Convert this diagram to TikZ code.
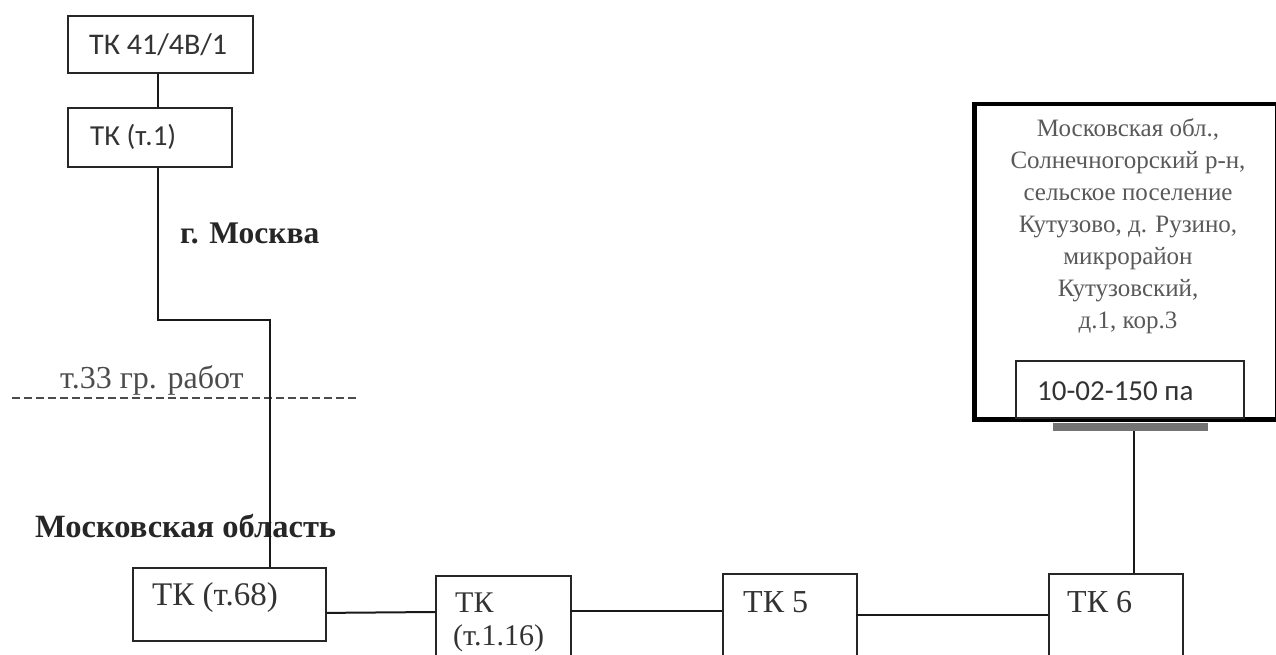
\documentclass[tikz,border=0pt]{standalone}
\usepackage{fontspec}
\setmainfont{Liberation Serif}
\newfontfamily\calfont{Carlito}
\begin{document}
\begin{tikzpicture}[x=1pt,y=-1pt,
  box/.style={draw=black!85, line width=1.8pt, rectangle, inner sep=0pt, anchor=north west},
  conn/.style={draw=black!90, line width=2pt},
  sanslbl/.style={font=\calfont\fontsize{29}{31}\selectfont, text=black!80, inner sep=0pt, anchor=west},
  seriflbl/.style={font=\fontsize{32}{34}\selectfont, text=black!80, inner sep=0pt, anchor=west},
  boldlbl/.style={font=\bfseries\fontsize{31.5}{33}\selectfont, text=black!85, inner sep=0pt, anchor=west},
  addr/.style={font=\fontsize{25}{32}\selectfont, text=black!65, inner sep=0pt, align=center}]
\clip (0,0) rectangle (1276,655);
\fill[white] (0,0) rectangle (1276,655);
% top-left boxes
\node[box, minimum width=185pt, minimum height=57pt] (b1) at (67,15) {};
\node[sanslbl, font=\calfont\fontsize{30}{32}\selectfont] (t1) at (89,45) {ТК 41/4В/1};
\node[box, minimum width=164pt, minimum height=59pt] (b2) at (67,107) {};
\node[sanslbl] (t2) at (90,137) {ТК (т.1)};
% bottom boxes
\node[box, minimum width=193pt, minimum height=73pt] (tk68) at (132,567) {};
\node[seriflbl, font=\fontsize{33}{35}\selectfont] (t68) at (152,598) {ТК (т.68)};
\node[box, minimum width=135pt, minimum height=110pt] (tk116) at (435,575) {};
\node[seriflbl, font=\fontsize{30}{32}\selectfont] (t116a) at (455,603) {ТК};
\node[seriflbl, font=\fontsize{30}{32}\selectfont] (t116b) at (453,638) {(т.1.16)};
\node[box, minimum width=134pt, minimum height=110pt] (tk5) at (722,573) {};
\node[seriflbl] (t5) at (743,602) {ТК 5};
\node[box, minimum width=134pt, minimum height=110pt] (tk6) at (1048,573) {};
\node[seriflbl] (t6) at (1067,602) {ТК 6};
% big box
\node[box, draw=black, line width=4.5pt, minimum width=303pt, minimum height=315pt] (big) at (972,102) {};
\node[addr] (addrtext) at (1128,226) {Московская обл.,\\Солнечногорский р-н,\\сельское поселение\\Кутузово, д. Рузино,\\микрорайон\\Кутузовский,\\д.1, кор.3};
\node[box, minimum width=228pt, minimum height=57pt] (inner) at (1015,360) {};
\node[sanslbl] (t10) at (1037,391) {10-02-150 па};
\fill[black!55] (1053,423) rectangle (1208,431);
% labels
\node[boldlbl] (moscow) at (180,233) {г. Москва};
\node[boldlbl, font=\bfseries\fontsize{32.5}{34}\selectfont] (oblast) at (35,526) {Московская область};
\node[seriflbl, text=black!70] (gr) at (60,380) {т.33 гр. работ};
\coordinate (d1) at (12,398);
\coordinate (d2) at (358,398);
\draw[black!70, line width=1.2pt, dash pattern=on 8pt off 4pt] (d1) -- (d2);
% connectors
\draw[conn] (b1.south -| 158,0) -- (b2.north -| 158,0);
\coordinate (k1) at (158,320);
\coordinate (k2) at (270,320);
\draw[conn] (b2.south -| k1) -- (k1) -- (k2) -- (tk68.north -| k2);
\draw[conn] ([yshift=-8.5pt]tk68.east) -- (tk116.west |- 0,612);
\draw[conn] (tk116.west |- 0,611) ++(135,0) -- (tk5.west |- 0,611);
\draw[conn] (tk5.west |- 0,615) ++(134,0) -- (tk6.west |- 0,615);
\coordinate (j) at (1134,431);
\draw[conn] (j) -- (tk6.north -| j);
\end{tikzpicture}
\end{document}
